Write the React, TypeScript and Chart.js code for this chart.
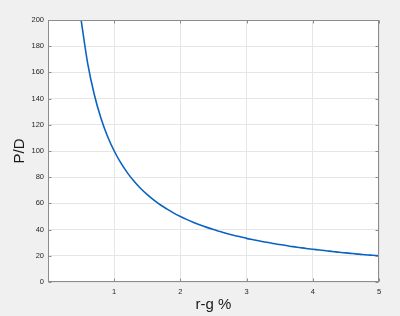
import React, { useEffect, useRef } from "react";
import { Chart, registerables } from "chart.js";

Chart.register(...registerables);

const rgPercent = [
  0.5, 0.6, 0.7, 0.8, 0.9, 1.0, 1.1, 1.2, 1.3, 1.4, 1.5, 1.6, 1.7, 1.8, 1.9, 2.0,
  2.1, 2.2, 2.3, 2.4, 2.5, 2.6, 2.7, 2.8, 2.9, 3.0, 3.1, 3.2, 3.3, 3.4, 3.5, 3.6,
  3.7, 3.8, 3.9, 4.0, 4.1, 4.2, 4.3, 4.4, 4.5, 4.6, 4.7, 4.8, 4.9, 5.0,
];
const priceToDividend = [
  200, 166.7, 142.9, 125, 111.1, 100, 90.9, 83.3, 76.9, 71.4, 66.7, 62.5, 58.8,
  55.6, 52.6, 50, 47.6, 45.5, 43.5, 41.7, 40, 38.5, 37, 35.7, 34.5, 33.3, 32.3,
  31.3, 30.3, 29.4, 28.6, 27.8, 27, 26.3, 25.6, 25, 24.4, 23.8, 23.3, 22.7, 22.2,
  21.7, 21.3, 20.8, 20.4, 20,
];
const xTicks = [1, 2, 3, 4, 5];
const yTicks = [0, 20, 40, 60, 80, 100, 120, 140, 160, 180, 200];
const xTitle = "r-g %";
const yTitle = "P/D";

const FONT = "'Liberation Sans', Arial, Helvetica, sans-serif";

const boxPlugin = {
  id: "matlabBox",
  beforeDraw(chart: any) {
    const { ctx, chartArea: a } = chart;
    ctx.save();
    ctx.fillStyle = "#ffffff";
    ctx.fillRect(a.left, a.top, a.right - a.left, a.bottom - a.top);
    ctx.restore();
  },
  afterDraw(chart: any) {
    const { ctx, chartArea: a, scales } = chart;
    ctx.save();
    ctx.strokeStyle = "#8c8c8c";
    ctx.lineWidth = 1;
    const L = Math.round(a.left) + 0.5;
    const R = Math.round(a.right) - 0.5;
    const T = Math.round(a.top) + 0.5;
    const B = Math.round(a.bottom) - 0.5;
    ctx.strokeRect(L, T, R - L, B - T);
    ctx.beginPath();
    const tl = 3;
    yTicks.forEach((v) => {
      const y = Math.round(scales.y.getPixelForValue(v)) + 0.5;
      ctx.moveTo(L, y);
      ctx.lineTo(L + tl, y);
      ctx.moveTo(R, y);
      ctx.lineTo(R - tl, y);
    });
    xTicks.forEach((v) => {
      const x = Math.round(scales.x.getPixelForValue(v)) + 0.5;
      ctx.moveTo(x, B);
      ctx.lineTo(x, B - tl);
      ctx.moveTo(x, T);
      ctx.lineTo(x, T + tl);
    });
    ctx.stroke();
    ctx.restore();
  },
};

export default function App() {
  const ref = useRef<HTMLCanvasElement | null>(null);
  useEffect(() => {
    if (!ref.current) return;
    const chart = new Chart(ref.current, {
      type: "line",
      data: {
        datasets: [
          {
            data: rgPercent.map((x, i) => ({ x, y: priceToDividend[i] })),
            borderColor: "#0b63c1",
            borderWidth: 1.6,
            pointRadius: 0,
            cubicInterpolationMode: "monotone",
            fill: false,
          },
        ],
      },
      options: {
        animation: false,
        responsive: false,
        devicePixelRatio: 1,
        layout: { padding: { top: 20, right: 21, left: 0, bottom: 0 } },
        plugins: { legend: { display: false }, tooltip: { enabled: false } },
        scales: {
          x: {
            type: "linear",
            min: 0,
            max: 5,
            afterFit: (s: any) => {
              s.height = 34;
            },
            afterBuildTicks: (s: any) => {
              s.ticks = [0, ...xTicks].map((v) => ({ value: v }));
            },
            grid: { color: "#e6e6e6", drawTicks: false, lineWidth: 1 },
            border: { display: false },
            ticks: {
              padding: 5,
              color: "#262626",
              font: { family: FONT, size: 7.5 },
              callback: (v: any) => (v === 0 ? "" : String(v)),
              maxRotation: 0,
            },
            title: {
              display: true,
              text: xTitle,
              color: "#1a1a1a",
              font: { family: FONT, size: 15 },
              padding: { top: 0, bottom: 2 },
            },
          },
          y: {
            type: "linear",
            min: 0,
            max: 200,
            afterFit: (s: any) => {
              s.width = 48;
            },
            afterBuildTicks: (s: any) => {
              s.ticks = yTicks.map((v) => ({ value: v }));
            },
            grid: { color: "#e6e6e6", drawTicks: false, lineWidth: 1 },
            border: { display: false },
            ticks: {
              padding: 4,
              color: "#262626",
              font: { family: FONT, size: 7.5 },
            },
            title: {
              display: true,
              text: yTitle,
              color: "#1a1a1a",
              font: { family: FONT, size: 15 },
              padding: { top: 11, bottom: 0 },
            },
          },
        },
      },
      plugins: [boxPlugin],
    } as any);
    return () => chart.destroy();
  }, []);
  return (
    <div
      style={{
        position: "absolute",
        left: 0,
        top: 0,
        width: 400,
        height: 316,
        background: "#f0f0f0",
      }}
    >
      <canvas ref={ref} width={400} height={316} style={{ display: "block" }} />
    </div>
  );
}
